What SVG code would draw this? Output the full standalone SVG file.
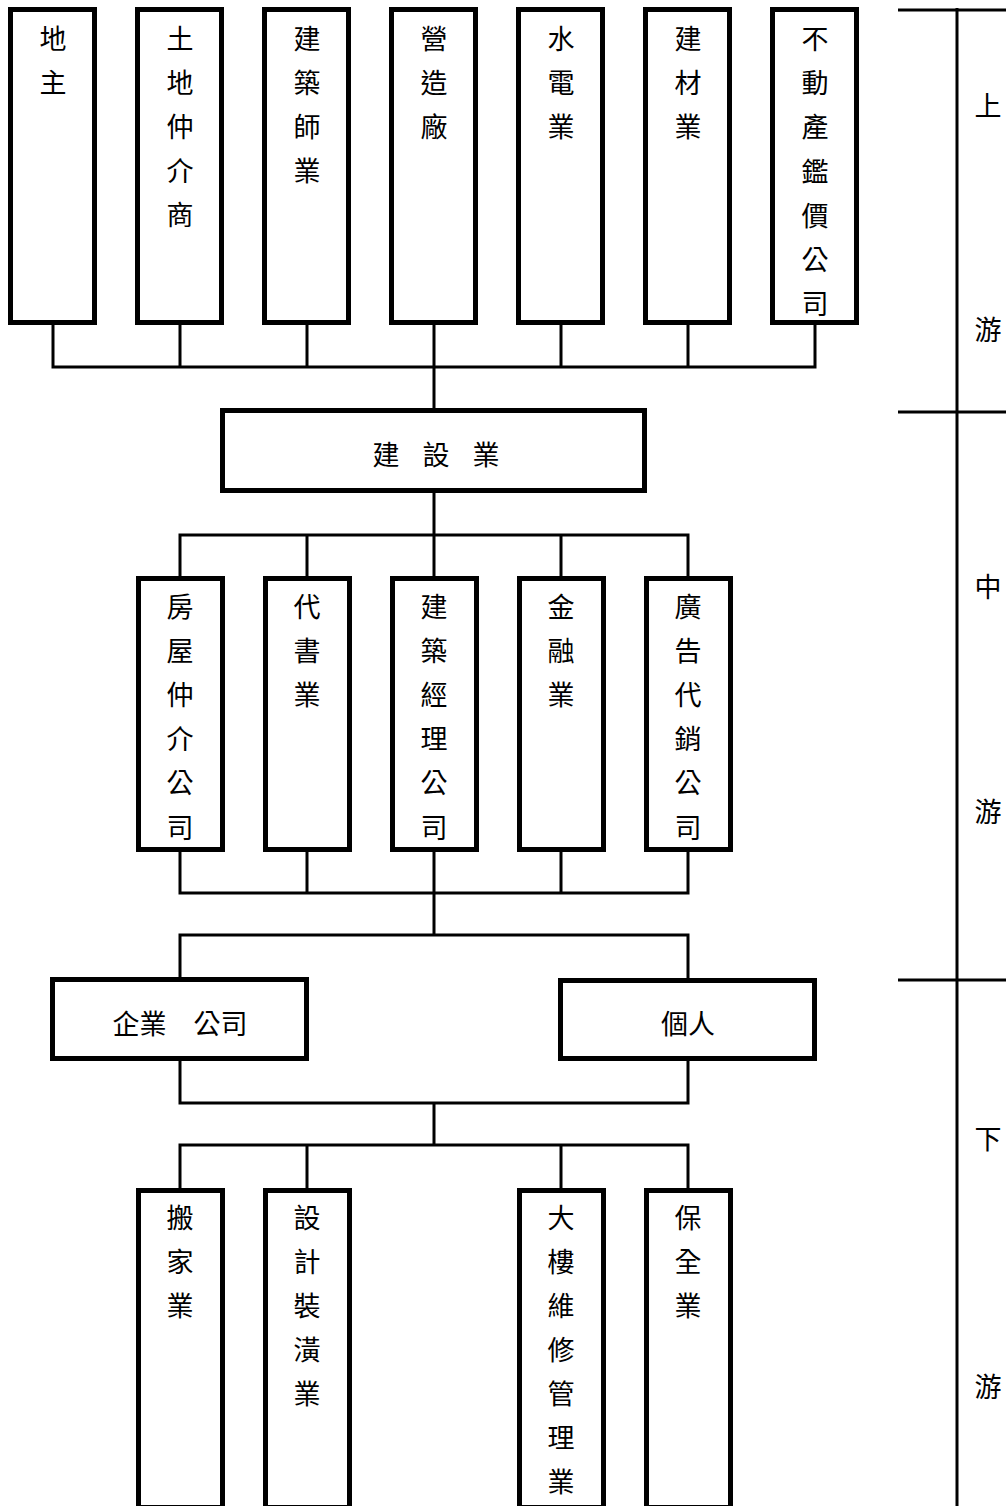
<svg xmlns="http://www.w3.org/2000/svg" width="1006" height="1506" viewBox="0 0 1006 1506">
<style>
.box{fill:#fff;stroke:#000;stroke-width:5}
.ln{stroke:#000;stroke-width:3;fill:none}
.t{font-family:"Noto Sans CJK TC","Noto Sans CJK SC",sans-serif;font-size:27px;fill:#000;text-anchor:middle;dominant-baseline:central}
</style>
<rect width="1006" height="1506" fill="#fff"/>
<g id="connectors">
<path class="ln" d="M53 325V367M180 325V367M307 325V367M434 325V367M561 325V367M688 325V367M815 325V367M51.5 367H816.5M434 367V408"/>
<path class="ln" d="M434 493V535M178.5 535H689.5M180 535V576M307 535V576M434 535V576M561 535V576M688 535V576"/>
<path class="ln" d="M180 852V893M307 852V893M434 852V893M561 852V893M688 852V893M178.5 893H689.5M434 893V935M178.5 935H689.5M180 935V978M688 935V978"/>
<path class="ln" d="M180 1060V1103M688 1060V1103M178.5 1103H689.5M434 1103V1145M178.5 1145H689.5M180 1145V1188M307 1145V1188M561 1145V1188M688 1145V1188"/>
</g>
<g id="stages">
<path class="ln" d="M957 8V1506M898 10H1006M898 412H1006M898 980H1006"/>
<text class="t" x="988" y="104">上</text>
<text class="t" x="988" y="328">游</text>
<text class="t" x="988" y="585">中</text>
<text class="t" x="988" y="810">游</text>
<text class="t" x="988" y="1137">下</text>
<text class="t" x="988" y="1385">游</text>
</g>
<g id="n1"><rect class="box" x="10.5" y="9.5" width="84" height="313"/><text class="t" x="53" y="37">地</text><text class="t" x="53" y="81">主</text></g>
<g id="n2"><rect class="box" x="137.5" y="9.5" width="84" height="313"/><text class="t" x="180" y="37">土</text><text class="t" x="180" y="81">地</text><text class="t" x="180" y="125">仲</text><text class="t" x="180" y="169">介</text><text class="t" x="180" y="213">商</text></g>
<g id="n3"><rect class="box" x="264.5" y="9.5" width="84" height="313"/><text class="t" x="307" y="37">建</text><text class="t" x="307" y="81">築</text><text class="t" x="307" y="125">師</text><text class="t" x="307" y="169">業</text></g>
<g id="n4"><rect class="box" x="391.5" y="9.5" width="84" height="313"/><text class="t" x="434" y="37">營</text><text class="t" x="434" y="81">造</text><text class="t" x="434" y="125">廠</text></g>
<g id="n5"><rect class="box" x="518.5" y="9.5" width="84" height="313"/><text class="t" x="561" y="37">水</text><text class="t" x="561" y="81">電</text><text class="t" x="561" y="125">業</text></g>
<g id="n6"><rect class="box" x="645.5" y="9.5" width="84" height="313"/><text class="t" x="688" y="37">建</text><text class="t" x="688" y="81">材</text><text class="t" x="688" y="125">業</text></g>
<g id="n7"><rect class="box" x="772.5" y="9.5" width="84" height="313"/><text class="t" x="815" y="37">不</text><text class="t" x="815" y="81">動</text><text class="t" x="815" y="125">產</text><text class="t" x="815" y="170">鑑</text><text class="t" x="815" y="214">價</text><text class="t" x="815" y="258">公</text><text class="t" x="815" y="302">司</text></g>
<g id="n8"><rect class="box" x="222.5" y="410.5" width="422" height="80"/><text class="t" x="386" y="453">建</text><text class="t" x="436" y="453">設</text><text class="t" x="486" y="453">業</text></g>
<g id="n9"><rect class="box" x="138.5" y="578.5" width="84" height="271"/><text class="t" x="180" y="605">房</text><text class="t" x="180" y="649">屋</text><text class="t" x="180" y="693">仲</text><text class="t" x="180" y="737">介</text><text class="t" x="180" y="781">公</text><text class="t" x="180" y="826">司</text></g>
<g id="n10"><rect class="box" x="265.5" y="578.5" width="84" height="271"/><text class="t" x="307" y="605">代</text><text class="t" x="307" y="649">書</text><text class="t" x="307" y="693">業</text></g>
<g id="n11"><rect class="box" x="392.5" y="578.5" width="84" height="271"/><text class="t" x="434" y="605">建</text><text class="t" x="434" y="649">築</text><text class="t" x="434" y="693">經</text><text class="t" x="434" y="737">理</text><text class="t" x="434" y="781">公</text><text class="t" x="434" y="826">司</text></g>
<g id="n12"><rect class="box" x="519.5" y="578.5" width="84" height="271"/><text class="t" x="561" y="605">金</text><text class="t" x="561" y="649">融</text><text class="t" x="561" y="693">業</text></g>
<g id="n13"><rect class="box" x="646.5" y="578.5" width="84" height="271"/><text class="t" x="688" y="605">廣</text><text class="t" x="688" y="649">告</text><text class="t" x="688" y="693">代</text><text class="t" x="688" y="737">銷</text><text class="t" x="688" y="781">公</text><text class="t" x="688" y="826">司</text></g>
<g id="n14"><rect class="box" x="52.5" y="979.5" width="254" height="79"/><text class="t" x="180" y="1022">企業　公司</text></g>
<g id="n15"><rect class="box" x="560.5" y="980.5" width="254" height="78"/><text class="t" x="688" y="1022">個人</text></g>
<g id="n16"><rect class="box" x="138.5" y="1190.5" width="84" height="317"/><text class="t" x="180" y="1216">搬</text><text class="t" x="180" y="1260">家</text><text class="t" x="180" y="1304">業</text></g>
<g id="n17"><rect class="box" x="265.5" y="1190.5" width="84" height="317"/><text class="t" x="307" y="1216">設</text><text class="t" x="307" y="1260">計</text><text class="t" x="307" y="1304">裝</text><text class="t" x="307" y="1348">潢</text><text class="t" x="307" y="1392">業</text></g>
<g id="n18"><rect class="box" x="519.5" y="1190.5" width="84" height="317"/><text class="t" x="561" y="1216">大</text><text class="t" x="561" y="1260">樓</text><text class="t" x="561" y="1304">維</text><text class="t" x="561" y="1348">修</text><text class="t" x="561" y="1392">管</text><text class="t" x="561" y="1436">理</text><text class="t" x="561" y="1480">業</text></g>
<g id="n19"><rect class="box" x="646.5" y="1190.5" width="84" height="317"/><text class="t" x="688" y="1216">保</text><text class="t" x="688" y="1260">全</text><text class="t" x="688" y="1304">業</text></g>
</svg>
